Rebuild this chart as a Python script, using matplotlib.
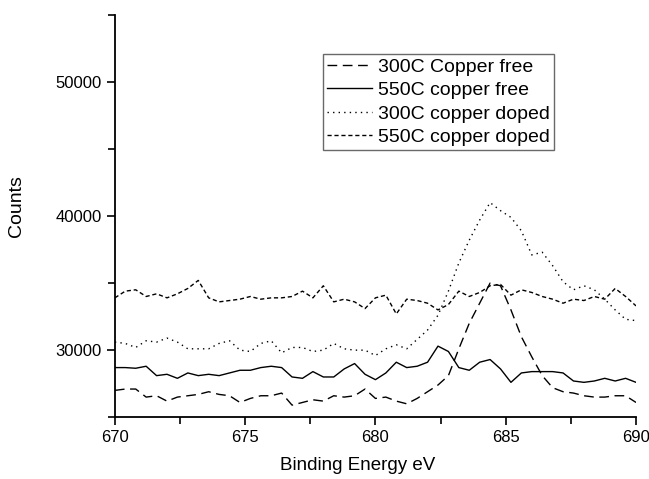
import numpy as np
import matplotlib.pyplot as plt

plt.rcParams['font.family'] = ['Liberation Sans', 'DejaVu Sans']

# binding energy grid, eV
energy = np.linspace(670, 690, 51)

# counts (thousands)
free_300 = [27.0, 27.1, 27.1, 26.5, 26.6, 26.2, 26.5, 26.6, 26.7, 26.9,
            26.7, 26.6, 26.1, 26.4, 26.6, 26.6, 26.8, 25.9, 26.1, 26.3,
            26.2, 26.6, 26.5, 26.6, 27.1, 26.4, 26.5, 26.2, 26.0, 26.4,
            26.9, 27.4, 28.1, 30.1, 32.0, 33.5, 35.0, 34.8, 33.0, 31.0,
            29.5, 28.1, 27.2, 26.9, 26.8, 26.6, 26.5, 26.5, 26.6, 26.6, 26.1]
free_550 = [28.7, 28.7, 28.65, 28.8, 28.1, 28.2, 27.9, 28.3, 28.1, 28.2,
            28.1, 28.3, 28.5, 28.5, 28.7, 28.8, 28.7, 28.0, 27.9, 28.4,
            28.0, 28.0, 28.6, 29.0, 28.2, 27.8, 28.3, 29.1, 28.7, 28.8,
            29.1, 30.3, 29.9, 28.7, 28.5, 29.1, 29.3, 28.6, 27.6, 28.3,
            28.4, 28.4, 28.4, 28.3, 27.7, 27.6, 27.7, 27.9, 27.7, 27.9, 27.6]
doped_300 = [30.6, 30.5, 30.2, 30.7, 30.6, 30.9, 30.6, 30.1, 30.1, 30.1,
             30.5, 30.7, 30.0, 29.9, 30.5, 30.7, 29.8, 30.2, 30.2, 29.9,
             30.0, 30.5, 30.1, 30.0, 30.0, 29.6, 30.1, 30.4, 30.1, 30.8,
             31.5, 32.6, 34.4, 36.5, 38.2, 39.7, 41.0, 40.4, 39.9, 38.9,
             37.1, 37.3, 36.3, 35.1, 34.5, 34.8, 34.5, 33.8, 33.0, 32.3, 32.2]
doped_550 = [33.9, 34.4, 34.5, 34.0, 34.2, 33.9, 34.2, 34.6, 35.2, 33.9,
             33.6, 33.7, 33.8, 34.0, 33.8, 33.9, 33.9, 34.0, 34.4, 33.9,
             34.8, 33.6, 33.8, 33.6, 33.1, 33.9, 34.1, 32.7, 33.8, 33.7,
             33.5, 33.0, 33.4, 34.4, 34.0, 34.3, 34.8, 34.9, 34.1, 34.5,
             34.3, 34.0, 33.8, 33.5, 33.8, 33.7, 34.0, 33.8, 34.6, 34.0, 33.3]

series = [
    ('300C Copper free', free_300, (0, (7, 4))),
    ('550C copper free', free_550, '-'),
    ('300C copper doped', doped_300, (0, (1, 3))),
    ('550C copper doped', doped_550, (0, (3, 2))),
]

fig = plt.figure(figsize=(6.49, 4.79), dpi=100)
ax = fig.add_axes([0.177, 0.129, 0.803, 0.840])

for label, vals, ls in series:
    ax.plot(energy, np.array(vals) * 1000, color='black', lw=1.0,
            linestyle=ls, label=label)

ax.set_xlim(670, 690)
ax.set_ylim(25000, 55000)
ax.set_xticks([670, 675, 680, 685, 690])
ax.set_xticks(np.arange(670, 690.1, 2.5), minor=True)
ax.set_yticks([30000, 40000, 50000])
ax.set_yticks([25000, 35000, 45000, 55000], minor=True)

ax.spines['top'].set_visible(False)
ax.spines['right'].set_visible(False)
ax.spines['left'].set_linewidth(1.3)
ax.spines['bottom'].set_linewidth(1.3)
ax.tick_params(which='both', direction='out', width=1.2, labelsize=12)
ax.tick_params(which='major', length=6)
ax.tick_params(which='minor', length=5)

ax.set_xlabel('Binding Energy eV', fontsize=13.5)
ax.xaxis.set_label_coords(0.465, -0.10)
ax.set_ylabel('Counts', fontsize=14)
ax.yaxis.set_label_coords(-0.172, 0.525)

leg = ax.legend(loc='upper left', bbox_to_anchor=(0.399, 0.903), fontsize=14,
                fancybox=False, frameon=True, handlelength=2.3,
                borderaxespad=0, borderpad=0.22, labelspacing=0.3,
                handletextpad=0.3)
leg.get_frame().set_edgecolor('#444444')
leg.get_frame().set_linewidth(1.0)

fig.savefig('out.png', dpi=100)
